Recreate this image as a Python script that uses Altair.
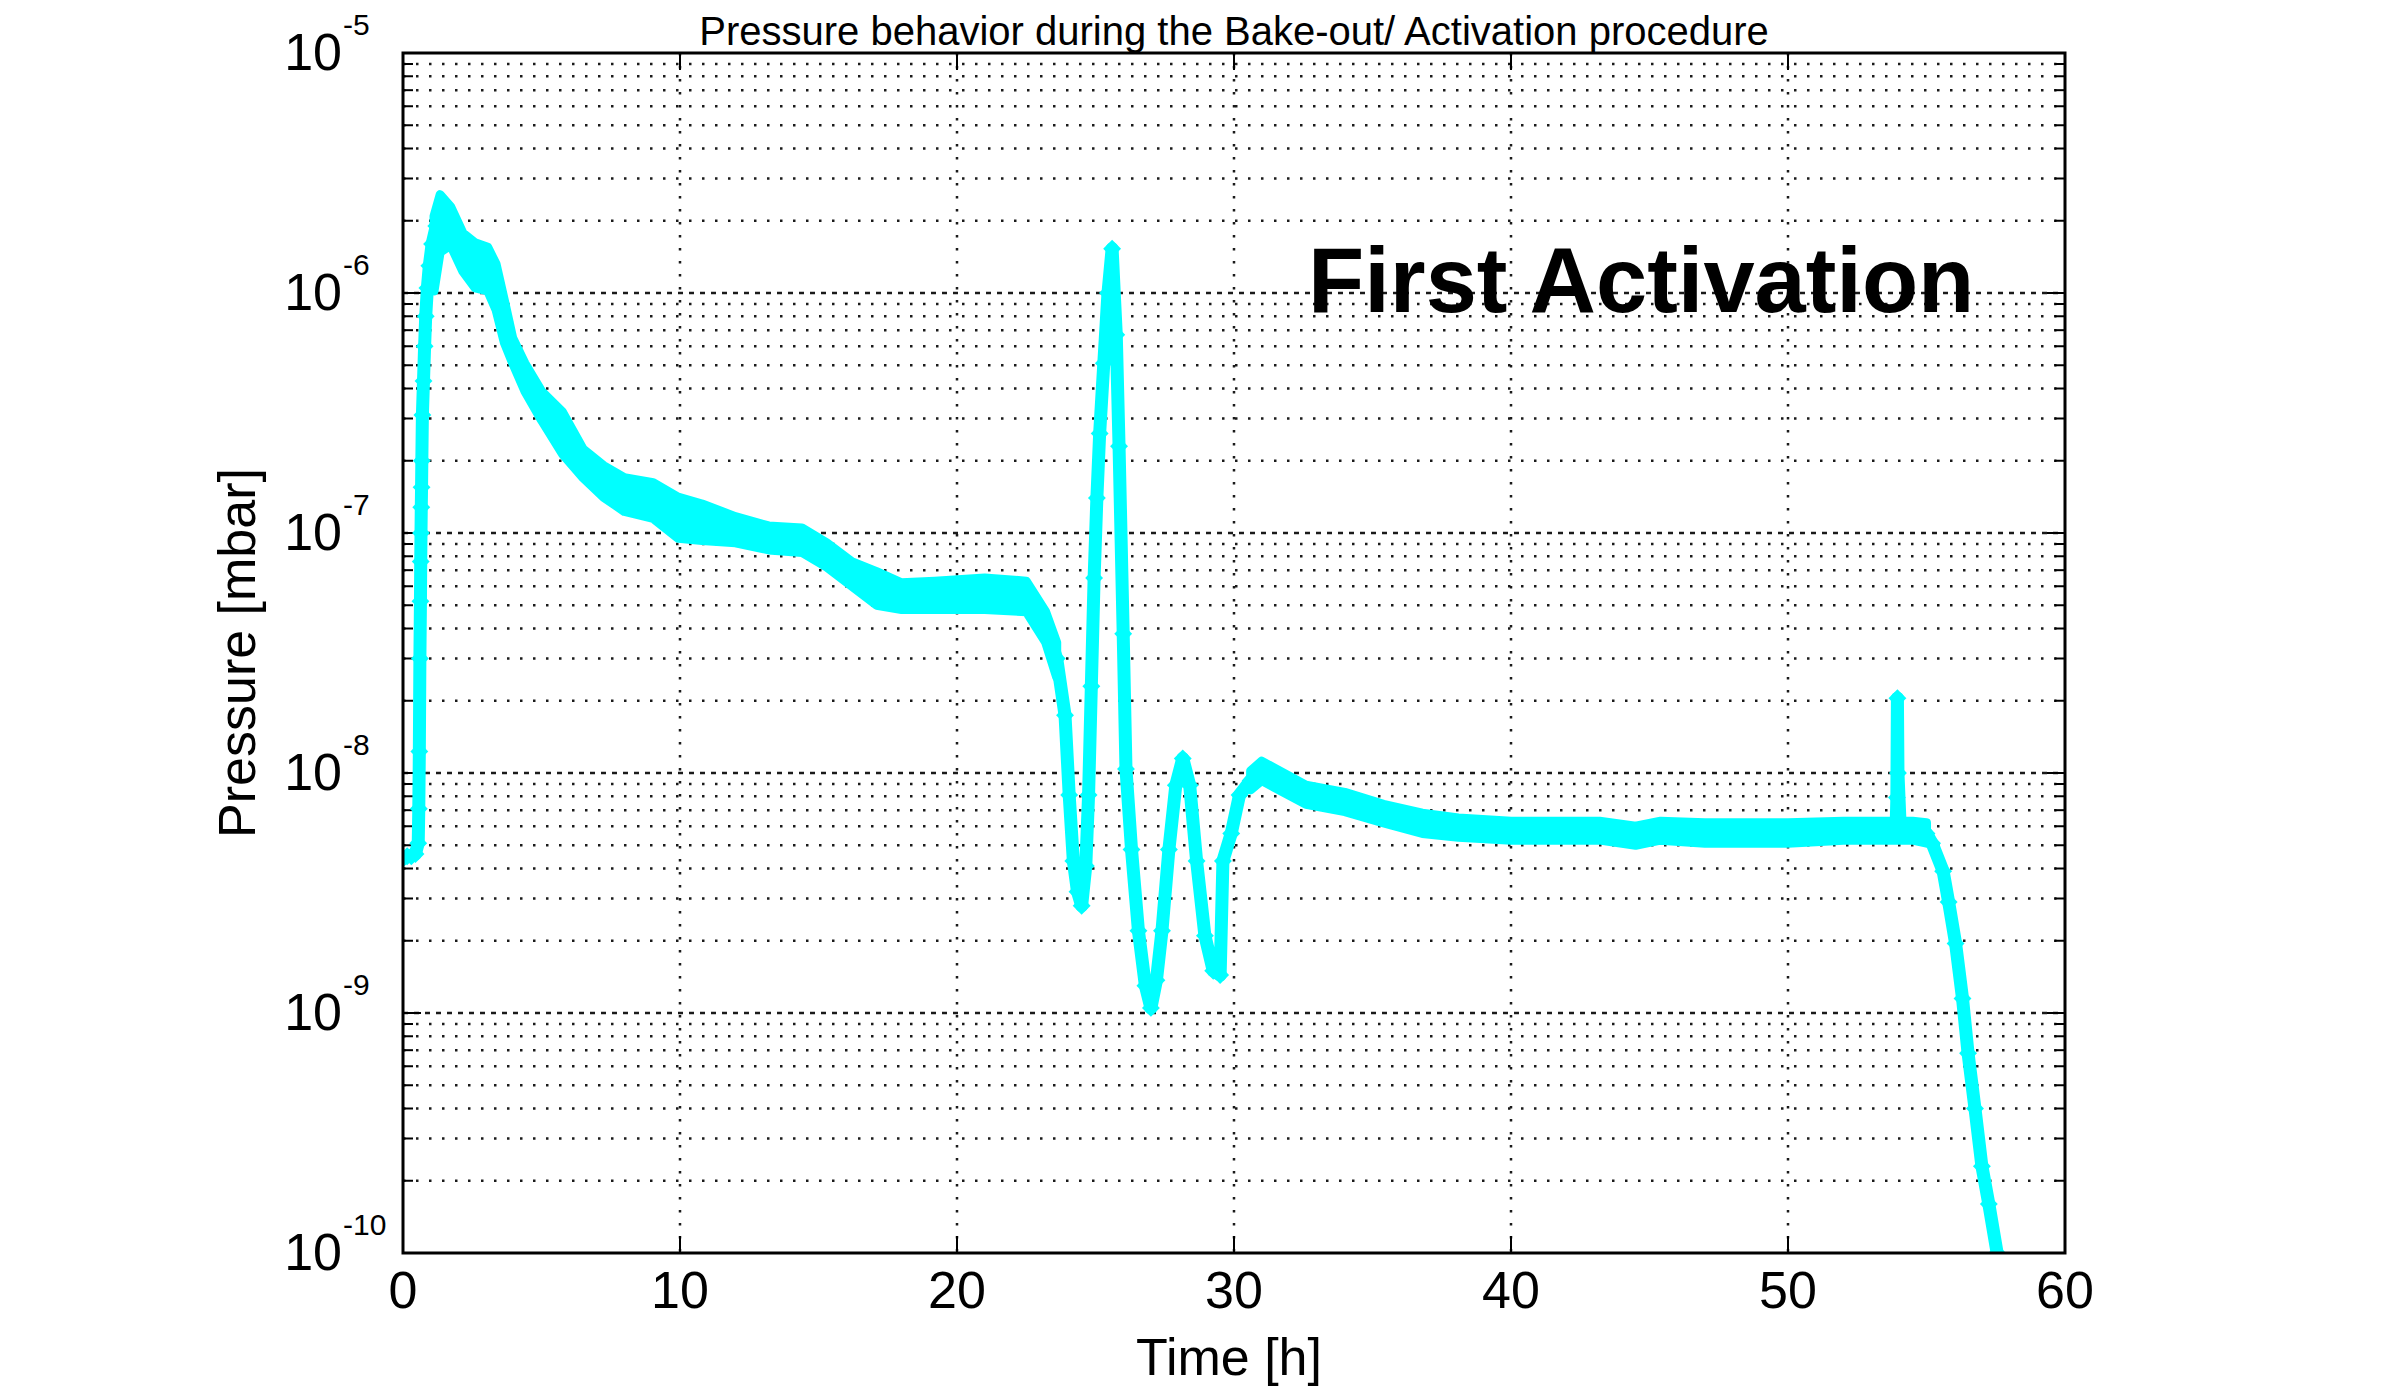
import altair as alt
import pandas as pd

# ---------------- text ----------------
TITLE = "Pressure behavior during the Bake-out/ Activation procedure"
X_TITLE = "Time [h]"
Y_TITLE = "Pressure [mbar]"
ANNOTATION = "First Activation"
ANNOT_T = [44.7]
ANNOT_P = [8.3e-7]

# ---------------- axes ----------------
X_TICKS = [0, 10, 20, 30, 40, 50, 60]
Y_DECADES = [1e-10, 1e-9, 1e-8, 1e-7, 1e-6, 1e-5]
Y_EXPONENTS = ["-10", "-9", "-8", "-7", "-6", "-5"]
MINOR_MULT = [2, 3, 4, 5, 6, 7, 8, 9]

# ---------------- data: centre trace (time [h], pressure [mbar]) ----------------
T_LINE = [0.0, 0.15, 0.3, 0.45, 0.55, 0.57, 0.59, 0.61, 0.63, 0.64, 0.65, 0.66, 0.67, 0.68,
          0.70, 0.74, 0.78, 0.82, 0.88, 0.95, 1.05, 1.2, 1.34, 1.5, 1.72, 2.16, 2.6, 3.06,
          3.36, 3.66, 3.96, 4.4, 5.0, 5.75, 6.5, 7.24, 7.99, 9.03, 9.93, 10.8, 12.0, 13.2,
          14.4, 15.3, 16.2, 17.1, 18.0, 19.2, 21.0, 22.5, 23.2, 23.6, 23.9, 24.05, 24.2,
          24.35, 24.5, 24.65, 24.75, 24.85, 24.95, 25.05, 25.15, 25.3, 25.45, 25.6, 25.75,
          25.85, 26.0, 26.1, 26.3, 26.55, 26.8, 27.0, 27.2, 27.4, 27.65, 27.9, 28.15, 28.4,
          28.65, 28.95, 29.25, 29.5, 29.6, 29.9, 30.2, 30.6, 31.0, 32.6, 34.0, 35.4, 36.8,
          38.1, 40.0, 43.2, 44.5, 45.4, 47.0, 50.0, 52.0, 53.9, 53.93, 53.95, 53.97, 54.05,
          54.5, 55.0, 55.2, 55.6, 55.8, 56.05, 56.3, 56.5, 56.75, 57.0, 57.25, 57.55]
P_LINE = [4.4e-9, 4.5e-9, 4.5e-9, 4.6e-9, 5.1e-9, 7.1e-9, 1.23e-8, 3.0e-8, 5.2e-8, 7.6e-8,
          1.0e-7, 1.28e-7, 1.55e-7, 2.0e-7, 3.1e-7, 4.3e-7, 6.0e-7, 8.0e-7, 1.05e-6, 1.3e-6,
          1.6e-6, 1.9e-6, 2.1e-6, 1.95e-6, 1.9e-6, 1.48e-6, 1.3e-6, 1.26e-6, 1.06e-6, 7.6e-7,
          5.8e-7, 4.5e-7, 3.4e-7, 2.6e-7, 1.95e-7, 1.64e-7, 1.45e-7, 1.36e-7, 1.16e-7, 1.11e-7,
          1.03e-7, 9.5e-8, 9.3e-8, 8.1e-8, 6.8e-8, 5.9e-8, 5.5e-8, 5.5e-8, 5.6e-8, 5.5e-8,
          4.1e-8, 3.0e-8, 1.74e-8, 8.1e-9, 4.3e-9, 3.2e-9, 2.8e-9, 4.1e-9, 8.1e-9, 2.3e-8,
          6.5e-8, 1.4e-7, 2.6e-7, 5.1e-7, 1.0e-6, 1.53e-6, 6.7e-7, 2.3e-7, 3.8e-8, 1.04e-8,
          4.8e-9, 2.2e-9, 1.3e-9, 1.05e-9, 1.37e-9, 2.2e-9, 4.8e-9, 8.9e-9, 1.15e-8, 8.9e-9,
          4.3e-9, 2.1e-9, 1.5e-9, 1.44e-9, 4.3e-9, 5.6e-9, 8.1e-9, 9.3e-9, 1.02e-8, 8.1e-9,
          7.6e-9, 6.8e-9, 6.2e-9, 5.9e-9, 5.75e-9, 5.75e-9, 5.5e-9, 5.75e-9, 5.6e-9, 5.6e-9,
          5.75e-9, 5.75e-9, 7.9e-9, 2.05e-8, 1.0e-8, 6.0e-9, 5.75e-9, 5.6e-9, 5.1e-9, 3.9e-9,
          2.9e-9, 1.95e-9, 1.15e-9, 6.8e-10, 4.0e-10, 2.3e-10, 1.6e-10, 1.0e-10]

# ---------------- data: noise envelope of the trace ----------------
T_BAND_A = [1.12, 1.34, 1.72, 2.16, 2.6, 3.06, 3.36, 3.66, 3.96, 4.4, 5.0, 5.75, 6.5, 7.24,
            7.99, 9.03, 9.93, 10.8, 12.0, 13.2, 14.4, 15.3, 16.2, 17.1, 18.0, 19.2, 21.0,
            22.5, 23.2, 23.6]
HI_A = [2.09e-6, 2.57e-6, 2.29e-6, 1.78e-6, 1.62e-6, 1.55e-6, 1.32e-6, 9.3e-7, 6.5e-7, 5.1e-7,
        3.9e-7, 3.2e-7, 2.24e-7, 1.91e-7, 1.70e-7, 1.62e-7, 1.41e-7, 1.32e-7, 1.17e-7, 1.07e-7,
        1.05e-7, 9.1e-8, 7.6e-8, 6.9e-8, 6.2e-8, 6.3e-8, 6.5e-8, 6.3e-8, 4.7e-8, 3.5e-8]
LO_A = [1.02e-6, 1.48e-6, 1.58e-6, 1.23e-6, 1.05e-6, 1.02e-6, 8.5e-7, 6.2e-7, 5.1e-7, 3.9e-7,
        2.95e-7, 2.14e-7, 1.70e-7, 1.41e-7, 1.23e-7, 1.15e-7, 9.5e-8, 9.3e-8, 9.1e-8, 8.5e-8,
        8.3e-8, 7.2e-8, 6.0e-8, 5.0e-8, 4.8e-8, 4.8e-8, 4.8e-8, 4.7e-8, 3.5e-8, 2.5e-8]
T_BAND_B = [30.6, 31.0, 32.6, 34.0, 35.4, 36.8, 38.1, 40.0, 43.2, 44.5, 45.4, 47.0, 50.0,
            52.0, 54.5, 55.0]
HI_B = [1.02e-8, 1.12e-8, 8.9e-9, 8.3e-9, 7.4e-9, 6.8e-9, 6.5e-9, 6.3e-9, 6.3e-9, 6.0e-9,
        6.3e-9, 6.2e-9, 6.2e-9, 6.3e-9, 6.3e-9, 6.2e-9]
LO_B = [8.5e-9, 9.3e-9, 7.4e-9, 6.9e-9, 6.2e-9, 5.6e-9, 5.4e-9, 5.25e-9, 5.25e-9, 5.0e-9,
        5.25e-9, 5.1e-9, 5.1e-9, 5.25e-9, 5.25e-9, 5.1e-9]

# ---------------- styling ----------------
W, H = 1662, 1200
FONT = "Liberation Sans"
CYAN = "#00FFFF"
GRID = "#1a1a1a"

xs = alt.Scale(domain=[0, 60], nice=False, zero=False)
ys = alt.Scale(type="log", domain=[1e-10, 1e-5], nice=False)

df_line = pd.DataFrame({"t": T_LINE, "p": P_LINE})
df_band = pd.concat([
    pd.DataFrame({"t": T_BAND_A, "lo": LO_A, "hi": HI_A, "seg": "a"}),
    pd.DataFrame({"t": T_BAND_B, "lo": LO_B, "hi": HI_B, "seg": "b"}),
])
minor_vals = [m * d for d in Y_DECADES[:-1] for m in MINOR_MULT]
df_minor = pd.DataFrame({"p": minor_vals})
df_dec = pd.DataFrame({"p": Y_DECADES, "e": Y_EXPONENTS})
df_dec_inner = pd.DataFrame({"p": Y_DECADES[1:-1]})
df_xt = pd.DataFrame({"t": X_TICKS})
df_xt_inner = pd.DataFrame({"t": X_TICKS[1:-1]})
df_ann = pd.DataFrame({"t": ANNOT_T, "p": ANNOT_P})
df_one = pd.DataFrame({"title": [TITLE], "xt": [X_TITLE], "yt": [Y_TITLE]})


def Y(f):
    return alt.Y(f, scale=ys, axis=None)


def X(f):
    return alt.X(f, scale=xs, axis=None)


hgrid = alt.Chart(df_minor).mark_rule(color=GRID, strokeWidth=2.5, strokeDash=[2.5, 10.5]).encode(
    y=Y("p:Q"), x=alt.value(0), x2=alt.value(W))
dgrid = alt.Chart(df_dec_inner).mark_rule(color=GRID, strokeWidth=2.5, strokeDash=[5, 6]).encode(
    y=Y("p:Q"), x=alt.value(0), x2=alt.value(W))
vgrid = alt.Chart(df_xt_inner).mark_rule(color=GRID, strokeWidth=2.5, strokeDash=[2.5, 10.5]).encode(
    x=X("t:Q"), y=alt.value(0), y2=alt.value(H))

tick_layers = []
for x0, x1 in [(0, 10), (W - 10, W)]:
    tick_layers.append(alt.Chart(df_minor).mark_rule(color="black", strokeWidth=2).encode(
        y=Y("p:Q"), x=alt.value(x0), x2=alt.value(x1)))
for x0, x1 in [(0, 18), (W - 18, W)]:
    tick_layers.append(alt.Chart(df_dec).mark_rule(color="black", strokeWidth=2).encode(
        y=Y("p:Q"), x=alt.value(x0), x2=alt.value(x1)))
for y0, y1 in [(H - 17, H), (0, 17)]:
    tick_layers.append(alt.Chart(df_xt).mark_rule(color="black", strokeWidth=2).encode(
        x=X("t:Q"), y=alt.value(y0), y2=alt.value(y1)))

band = alt.Chart(df_band).mark_area(color=CYAN, opacity=1, clip=True, stroke=CYAN,
                                    strokeWidth=9, strokeJoin="round").encode(
    x=X("t:Q"), y=Y("lo:Q"), y2="hi:Q", detail="seg:N")

line = alt.Chart(df_line).mark_line(color=CYAN, strokeWidth=13, strokeJoin="round",
                                    strokeCap="round", clip=True).encode(
    x=X("t:Q"), y=Y("p:Q"))

points = alt.Chart(df_line).mark_point(shape="diamond", filled=True, size=320, color=CYAN,
                                        opacity=1, clip=True).encode(x=X("t:Q"), y=Y("p:Q"))

frame = alt.Chart(df_one).mark_rect(filled=False, stroke="black", strokeWidth=3).encode(
    x=alt.value(0), x2=alt.value(W), y=alt.value(0), y2=alt.value(H))

# tick labels
xlab = alt.Chart(df_xt).mark_text(align="center", baseline="top", fontSize=52, font=FONT,
                                  color="black", dy=14).encode(
    x=X("t:Q"), y=alt.value(H), text=alt.Text("t:Q", format="d"))
ylab = alt.Chart(df_dec).mark_text(text="10", align="right", baseline="middle", fontSize=52,
                                   font=FONT, color="black", dy=1).encode(
    y=Y("p:Q"), x=alt.value(-61))
yexp = alt.Chart(df_dec).mark_text(align="left", baseline="alphabetic", fontSize=30, font=FONT,
                                   color="black", dy=-18).encode(
    y=Y("p:Q"), x=alt.value(-60), text="e:N")

# axis titles and chart title
xtitle = alt.Chart(df_one).mark_text(align="center", baseline="alphabetic", fontSize=52,
                                     font=FONT, color="black").encode(
    text="xt:N", x=alt.value(826), y=alt.value(H + 122))
ytitle = alt.Chart(df_one).mark_text(align="center", baseline="middle", fontSize=52, angle=270,
                                     font=FONT, color="black").encode(
    text="yt:N", x=alt.value(-164), y=alt.value(H / 2))
ttitle = alt.Chart(df_one).mark_text(align="center", baseline="alphabetic", fontSize=40,
                                     font=FONT, color="black").encode(
    text="title:N", x=alt.value(W / 2), y=alt.value(-8))

ann = alt.Chart(df_ann).mark_text(text=ANNOTATION, align="center", baseline="alphabetic",
                                  fontSize=92, fontWeight="bold", font=FONT,
                                  color="black").encode(x=X("t:Q"), y=Y("p:Q"))

chart = alt.layer(
    hgrid, dgrid, vgrid, *tick_layers, band, line, points, frame,
    xlab, ylab, yexp, xtitle, ytitle, ttitle, ann
).properties(
    width=W, height=H,
    autosize=alt.AutoSizeParams(type="none"),
    padding={"left": 395, "top": 45, "right": 250, "bottom": 136},
).configure_view(stroke=None).configure(background="white")

chart.save("out.html", embed_options={"renderer": "svg", "actions": False})
